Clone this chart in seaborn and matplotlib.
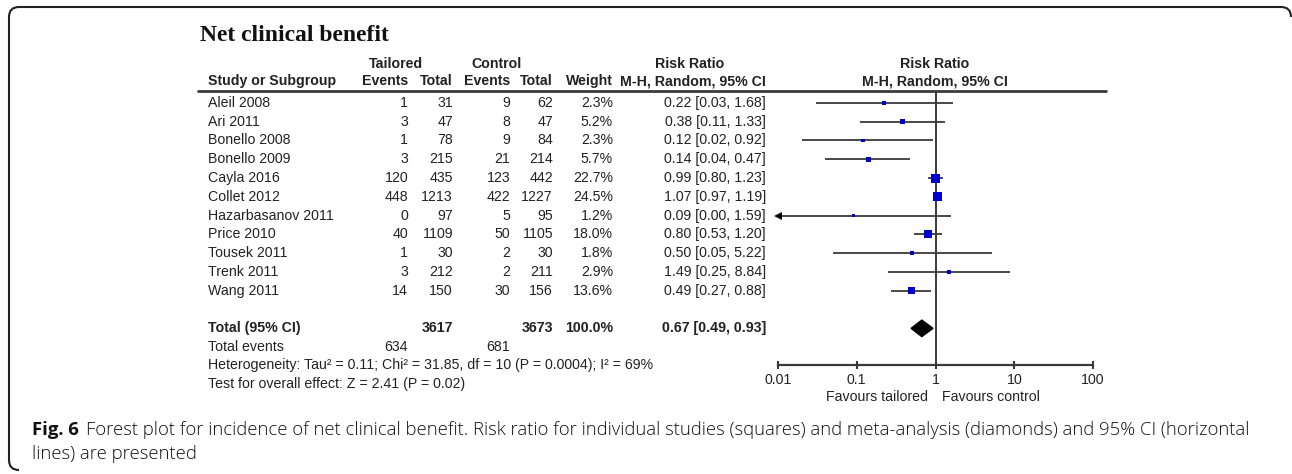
import numpy as np
import pandas as pd
import matplotlib
matplotlib.use("Agg")
import matplotlib.pyplot as plt
import matplotlib.transforms as mtransforms
from matplotlib.patches import Polygon, PathPatch
from matplotlib.path import Path
from matplotlib import font_manager
import seaborn as sns

# Study data
studies = ["Aleil 2008", "Ari 2011", "Bonello 2008", "Bonello 2009", "Cayla 2016",
           "Collet 2012", "Hazarbasanov 2011", "Price 2010", "Tousek 2011",
           "Trenk 2011", "Wang 2011"]
t_events = [1, 3, 1, 3, 120, 448, 0, 40, 1, 3, 14]
t_total = [31, 47, 78, 215, 435, 1213, 97, 1109, 30, 212, 150]
c_events = [9, 8, 9, 21, 123, 422, 5, 50, 2, 2, 30]
c_total = [62, 47, 84, 214, 442, 1227, 95, 1105, 30, 211, 156]
weight = [2.3, 5.2, 2.3, 5.7, 22.7, 24.5, 1.2, 18.0, 1.8, 2.9, 13.6]
rr = [0.22, 0.38, 0.12, 0.14, 0.99, 1.07, 0.09, 0.80, 0.50, 1.49, 0.49]
rr_lo = [0.03, 0.11, 0.02, 0.04, 0.80, 0.97, 0.00, 0.53, 0.05, 0.25, 0.27]
rr_hi = [1.68, 1.33, 0.92, 0.47, 1.23, 1.19, 1.59, 1.20, 5.22, 8.84, 0.88]

# Pooled estimate
pooled = [0.67, 0.49, 0.93]
total_weight = 100.0
sum_total = [3617, 3673]
sum_events = [634, 681]
het_text = "Heterogeneity: Tau\u00b2 = 0.11; Chi\u00b2 = 31.85, df = 10 (P = 0.0004); I\u00b2 = 69%"
test_text = "Test for overall effect: Z = 2.41 (P = 0.02)"

x_ticks = [0.01, 0.1, 1, 10, 100]
x_tick_labels = ["0.01", "0.1", "1", "10", "100"]

caption_bold = "Fig. 6"
caption_line1 = ("Forest plot for incidence of net clinical benefit. Risk ratio for individual "
                 "studies (squares) and meta-analysis (diamonds) and 95% CI (horizontal")
caption_line2 = "lines) are presented"

df = pd.DataFrame({"study": studies, "rr": rr, "lo": rr_lo, "hi": rr_hi, "weight": weight})
df["row"] = np.arange(len(df))
total_row = len(df) + 1

sns.set_theme(style="white")
plt.rcParams["font.family"] = ["Liberation Sans", "DejaVu Sans"]

W, H = 1292, 474
ink = "#222222"
line_col = "#3a3a3a"
fs = 10.2

fig = plt.figure(figsize=(W / 100, H / 100), dpi=100)
fig.patch.set_facecolor("white")

# background axes in pixel units for the table text
bg = fig.add_axes([0, 0, 1, 1])
bg.set_xlim(0, W)
bg.set_ylim(H, 0)
bg.axis("off")

# forest plot axes
ax = fig.add_axes([778 / W, (H - 365) / H, 315 / W, 274 / H])
ax.patch.set_alpha(0)
ax.set_xscale("log")
ax.set_xlim(0.01, 100)
ax.set_ylim(13.95, -0.63)

# confidence intervals
xmin = ax.get_xlim()[0]
for _, r in df.iterrows():
    lo = max(r["lo"], xmin)
    ax.plot([lo, r["hi"]], [r["row"], r["row"]], color=line_col, lw=1.3, solid_capstyle="butt")
    if r["lo"] < xmin:
        ax.plot([xmin], [r["row"]], marker="<", color="black", markersize=5.5,
                markeredgewidth=0, clip_on=False)

# squares scaled by weight
sns.scatterplot(data=df, x="rr", y="row", size="weight", sizes=(3, 45), size_norm=(0, 24.5),
                marker="s", color="#0000cc", linewidth=0, legend=False, ax=ax, zorder=3)

# pooled diamond
dh = 0.44
ax.add_patch(Polygon([(pooled[1], total_row), (pooled[0], total_row - dh),
                      (pooled[2], total_row), (pooled[0], total_row + dh)],
                     closed=True, color="black", zorder=3))

ax.axvline(1, color=line_col, lw=1.4, zorder=1)

for s in ["left", "right", "top"]:
    ax.spines[s].set_visible(False)
ax.spines["bottom"].set_color(line_col)
ax.spines["bottom"].set_linewidth(1.6)
ax.set_xticks(x_ticks)
ax.set_xticklabels(x_tick_labels)
ax.xaxis.set_minor_locator(matplotlib.ticker.NullLocator())
ax.tick_params(axis="x", direction="inout", length=6, width=1.5, color=line_col,
               labelsize=fs, labelcolor=ink, pad=3, bottom=True)
ax.set_yticks([])
ax.set_xlabel("")
ax.set_ylabel("")

# table text: x in pixels, y in row units
tr = mtransforms.blended_transform_factory(bg.transData, ax.transData)
kw = dict(transform=tr, fontsize=fs, color=ink, va="center")
for _, r in df.iterrows():
    i = int(r["row"])
    bg.text(208, i, studies[i], ha="left", **kw)
    bg.text(408, i, str(t_events[i]), ha="right", **kw)
    bg.text(453, i, str(t_total[i]), ha="right", **kw)
    bg.text(510, i, str(c_events[i]), ha="right", **kw)
    bg.text(553, i, str(c_total[i]), ha="right", **kw)
    bg.text(613, i, f"{weight[i]:.1f}%", ha="right", **kw)
    bg.text(766, i, f"{rr[i]:.2f} [{rr_lo[i]:.2f}, {rr_hi[i]:.2f}]", ha="right", **kw)

bkw = dict(kw, fontweight="bold")
bg.text(208, total_row, "Total (95% CI)", ha="left", **bkw)
bg.text(453, total_row, str(sum_total[0]), ha="right", **bkw)
bg.text(553, total_row, str(sum_total[1]), ha="right", **bkw)
bg.text(613, total_row, f"{total_weight:.1f}%", ha="right", **bkw)
bg.text(766, total_row, f"{pooled[0]:.2f} [{pooled[1]:.2f}, {pooled[2]:.2f}]", ha="right", **bkw)
bg.text(208, total_row + 1.0, "Total events", ha="left", **kw)
bg.text(408, total_row + 1.0, str(sum_events[0]), ha="right", **kw)
bg.text(510, total_row + 1.0, str(sum_events[1]), ha="right", **kw)
bg.text(208, total_row + 1.97, het_text, ha="left", **kw)
bg.text(208, total_row + 2.97, test_text, ha="left", **kw)

# headers
hkw = dict(fontsize=fs, color=ink, va="center", fontweight="bold")
bg.text(200, 35, "Net clinical benefit", fontsize=17, fontweight="bold",
        family=["Liberation Serif", "DejaVu Serif"], color="#111111", va="center", ha="left")
bg.text(396, 64, "Tailored", ha="center", **hkw)
bg.text(497, 64, "Control", ha="center", **hkw)
bg.text(690, 64, "Risk Ratio", ha="center", **hkw)
bg.text(935, 64, "Risk Ratio", ha="center", **hkw)
bg.text(208, 81, "Study or Subgroup", ha="left", **hkw)
bg.text(408, 81, "Events", ha="right", **hkw)
bg.text(453, 81, "Total", ha="right", **hkw)
bg.text(510, 81, "Events", ha="right", **hkw)
bg.text(553, 81, "Total", ha="right", **hkw)
bg.text(613, 81, "Weight", ha="right", **hkw)
bg.text(766, 81, "M-H, Random, 95% CI", ha="right", **hkw)
bg.text(935, 81, "M-H, Random, 95% CI", ha="center", **hkw)
bg.plot([198, 1106], [91, 91], color=line_col, lw=2)

bg.text(928, 397, "Favours tailored", ha="right", va="center", fontsize=fs, color=ink)
bg.text(942, 397, "Favours control", ha="left", va="center", fontsize=fs, color=ink)

# frame with rounded corners (top and left edges)
rad = 10
verts = [(W - 1, 7 + rad), (W - 1, 7), (W - 1 - rad, 7), (9 + rad, 7), (9, 7), (9, 7 + rad),
         (9, 470 - rad), (9, 470), (9 + rad, 470)]
codes = [Path.MOVETO, Path.CURVE3, Path.CURVE3, Path.LINETO, Path.CURVE3, Path.CURVE3,
         Path.LINETO, Path.CURVE3, Path.CURVE3]
bg.add_patch(PathPatch(Path(verts, codes), fill=False, edgecolor="#222222", lw=1.5))

# caption, fitted to the width of the original
names = {f.name for f in font_manager.fontManager.ttflist}
cap_family = "Liberation Sans Narrow" if "Liberation Sans Narrow" in names else "Open Sans"
cap_size = 12
t_fig = bg.text(32, 430, caption_bold, fontsize=cap_size, fontweight="bold",
                family=cap_family, color="#111111", va="center", ha="left")
t_c1 = bg.text(100, 430, caption_line1, fontsize=cap_size, fontweight="light",
               family=cap_family, color="#111111", va="center", ha="left")
t_c2 = bg.text(32, 454, caption_line2, fontsize=cap_size, fontweight="light",
               family=cap_family, color="#111111", va="center", ha="left")
fig.canvas.draw()
rend = fig.canvas.get_renderer()
w_all = t_fig.get_window_extent(rend).width + 6 + t_c1.get_window_extent(rend).width
cap_size = cap_size * (1249 - 32) / w_all
for t in (t_fig, t_c1, t_c2):
    t.set_fontsize(cap_size)
fig.canvas.draw()
t_c1.set_x(32 + t_fig.get_window_extent(rend).width + 6 * cap_size / 12)

fig.savefig("out.png", dpi=100, facecolor="white")
